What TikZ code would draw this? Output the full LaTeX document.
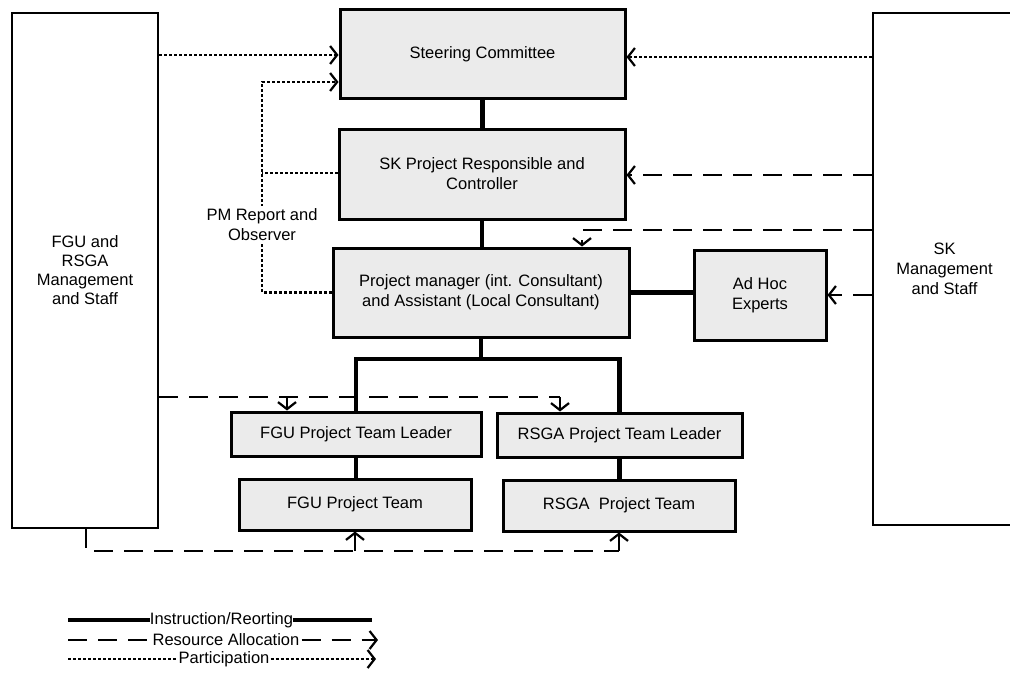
\documentclass[tikz,border=0pt]{standalone}
\usepackage{fontspec}
\setmainfont{Liberation Sans}
\usetikzlibrary{arrows.meta}
\begin{document}
\begin{tikzpicture}[x=1pt,y=-1pt,
  every node/.style={font=\fontsize{16.5}{20}\selectfont, align=center, inner sep=0pt},
  box/.style={draw, line width=3pt, fill=black!8},
  bigbox/.style={draw, line width=2.2pt, fill=white},
  instr/.style={line width=4.4pt, line join=miter},
  res/.style={line width=2.8pt, dash pattern=on 19pt off 11pt},
  part/.style={line width=2.2pt, dash pattern=on 3pt off 2pt},
  tip/.style={-{Straight Barb[length=7pt,width=18pt,line width=2.2pt]}},
]
\useasboundingbox (0,0) rectangle (1010,685);

% side boxes
\node[bigbox, minimum width=146pt, minimum height=515pt,
      font=\fontsize{16.5}{19}\selectfont] (fgu) at (85,270.5)
  {FGU and\\RSGA\\Management\\and Staff};
\node[bigbox, minimum width=143pt, minimum height=512pt] (skm) at (944.5,269)
  {SK\\Management\\and Staff};

% central boxes
\node[box, minimum width=285pt, minimum height=89pt] (steer) at (482.5,54.5) {Steering Committee};
\node[box, minimum width=286pt, minimum height=90pt] (skp) at (482,174)
  {SK Project Responsible and\\Controller};
\node[box, minimum width=296pt, minimum height=89pt] (pm) at (481,292.5)
  {Project manager (int. Consultant)\\and Assistant (Local Consultant)};
\node[box, minimum width=132pt, minimum height=90pt] (ah) at (760,295) {Ad Hoc\\Experts};
\node[box, minimum width=250pt, minimum height=44pt] (fl) at (356,434) {FGU Project Team Leader};
\node[box, minimum width=245pt, minimum height=44pt] (rl) at (619.5,435) {RSGA Project Team Leader};
\node[box, minimum width=232pt, minimum height=51pt] (ft) at (355,504.5) {FGU Project Team};
\node[box, minimum width=232pt, minimum height=51pt] (rt) at (619,505.5) {RSGA\ \ Project Team};

% helper coordinates for the routed lines
\coordinate (yA) at (0,55);
\coordinate (yA2) at (0,57);
\coordinate (pv) at (262,82);
\coordinate (pq) at (262,173);
\coordinate (yC) at (0,175);
\coordinate (rd) at (582,230);
\coordinate (hb) at (480,359);
\coordinate (d1) at (560,397);
\coordinate (d2) at (287,397);
\coordinate (b1) at (86,551);
\coordinate (b2) at (619,551);
\coordinate (b3) at (355,551);

% instruction / reporting
\draw[instr] (steer.south) -- (steer.south |- skp.north);
\draw[instr] (skp.south) -- (skp.south |- pm.north);
\draw[instr] (pm.east) -- (pm.east -| ah.west);
\draw[instr] (pm.south) -- (pm.south |- hb);
\draw[instr] (fl.north) -- (fl.north |- hb) -- (rl.north |- hb) -- (rl.north);
\draw[instr] (fl.south) -- (fl.south |- ft.north);
\draw[instr] (rl.south) -- (rl.south |- rt.north);

% participation
\draw[part,tip] (fgu.east |- yA) -- (steer.west |- yA);
\draw[part,tip] (skm.west |- yA2) -- (steer.east |- yA2);
\draw[part,tip] (pm.west) -- (pm.west -| pv) -- (pv) -- (steer.west |- pv);
\draw[part] (skp.west |- pq) -- (pq);
\node[fill=white, inner sep=3pt] (pmr) at (262,225) {PM Report and\\Observer};

% resource allocation
\draw[res,tip] (skm.west |- yC) -- (skp.east |- yC);
\draw[res,tip] (skm.west |- rd) -- (rd) -- (rd |- pm.north);
\draw[res,tip] (skm.west |- ah.east) -- (ah.east);
\draw[res] (fgu.east |- d1) -- (d1);
\draw[res,tip] (d1) -- (d1 |- rl.north);
\draw[res,tip] (d2) -- (d2 |- fl.north);
\draw[res] (fgu.south -| b1) -- (b1) -- (b2);
\draw[res,tip] (b2) -- (b2 |- rt.south);
\draw[res,tip] (b3) -- (b3 |- ft.south);

% legend
\coordinate (l1a) at (68,620);
\coordinate (l1b) at (372,620);
\coordinate (l2a) at (68,640);
\coordinate (l2b) at (378,640);
\coordinate (l3a) at (68,659);
\coordinate (l3b) at (376,659);
\node (lg1) at (221.5,620) {Instruction/Reorting};
\node[inner xsep=2pt] (lg2) at (226,640) {Resource Allocation};
\node[inner xsep=1pt] (lg3) at (224,659) {Participation};
\draw[line width=3.2pt] (l1a) -- (lg1.west);
\draw[line width=3.2pt] (lg1.east) -- (l1b);
\draw[res] (l2a) -- (lg2.west);
\draw[res,tip] (lg2.east) -- (l2b);
\draw[part] (l3a) -- (lg3.west);
\draw[part,tip] (lg3.east) -- (l3b);
\end{tikzpicture}
\end{document}
